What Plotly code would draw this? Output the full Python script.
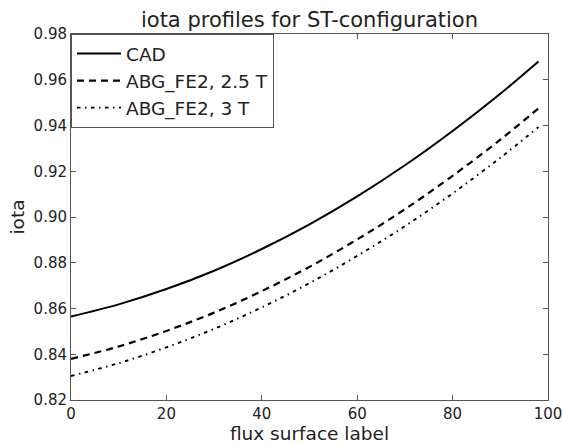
import plotly.graph_objects as go

# flux surface label
flux = [0, 10, 20, 30, 40, 50, 60, 70, 80, 90, 98]
# iota profiles
iota_cad = [0.8565, 0.8618, 0.8685, 0.8765, 0.8860, 0.8968, 0.9090, 0.9226, 0.9376, 0.9539, 0.9680]
iota_abg_25 = [0.8380, 0.8434, 0.8502, 0.8582, 0.8676, 0.8782, 0.8902, 0.9034, 0.9180, 0.9338, 0.9475]
iota_abg_3 = [0.8305, 0.8361, 0.8430, 0.8511, 0.8605, 0.8711, 0.8830, 0.8960, 0.9103, 0.9259, 0.9393]

names = ["CAD", "ABG_FE2, 2.5 T", "ABG_FE2, 3 T"]
x_ticks = [0, 20, 40, 60, 80, 100]
y_ticks = [0.82, 0.84, 0.86, 0.88, 0.90, 0.92, 0.94, 0.96, 0.98]

FONT = "DejaVu Sans"
AX = "#555555"

fig = go.Figure()
fig.add_trace(go.Scatter(x=flux, y=iota_cad, mode="lines", name=names[0],
                         line=dict(color="black", width=2, shape="spline")))
fig.add_trace(go.Scatter(x=flux, y=iota_abg_25, mode="lines", name=names[1],
                         line=dict(color="black", width=2.2, dash="7px,5px", shape="spline")))
fig.add_trace(go.Scatter(x=flux, y=iota_abg_3, mode="lines", name=names[2],
                         line=dict(color="black", width=1.9, dash="3.5px,4.5px,1.5px,4.5px", shape="spline")))

axis_common = dict(
    showgrid=False, zeroline=False, showline=True, linecolor=AX, linewidth=1,
    mirror="ticks", ticks="inside", ticklen=5, tickcolor=AX, tickwidth=1,
    tickfont=dict(family=FONT, size=15, color="#222222"), automargin=False,
)

fig.update_layout(
    width=563, height=445,
    margin=dict(l=71, r=15, t=34, b=45, autoexpand=False),
    paper_bgcolor="white", plot_bgcolor="white",
    font=dict(family=FONT, color="#222222"),
    title=dict(text="iota profiles for ST-configuration",
               font=dict(family=FONT, size=21, color="#222222"),
               x=0.5, xanchor="center", xref="paper",
               y=1 - 20 / 445, yanchor="middle", yref="container"),
    xaxis=dict(range=[0, 100], tickvals=x_ticks,
               title=dict(text="flux surface label", font=dict(family=FONT, size=18.5), standoff=2),
               **axis_common),
    yaxis=dict(range=[0.82, 0.98], tickvals=y_ticks, tickformat=".2f",
               title=dict(text="iota", font=dict(family=FONT, size=18.5), standoff=4),
               **axis_common),
    legend=dict(x=0.0, y=1.0, xanchor="left", yanchor="top",
                bgcolor="white", bordercolor=AX, borderwidth=1,
                font=dict(family=FONT, size=18.5, color="#222222"),
                itemwidth=44, entrywidth=228, entrywidthmode="pixels"),
    showlegend=True,
)

fig.write_html("out.html", config={"displayModeBar": False},
               post_script="document.body.style.margin='0';document.body.style.overflow='hidden';")
